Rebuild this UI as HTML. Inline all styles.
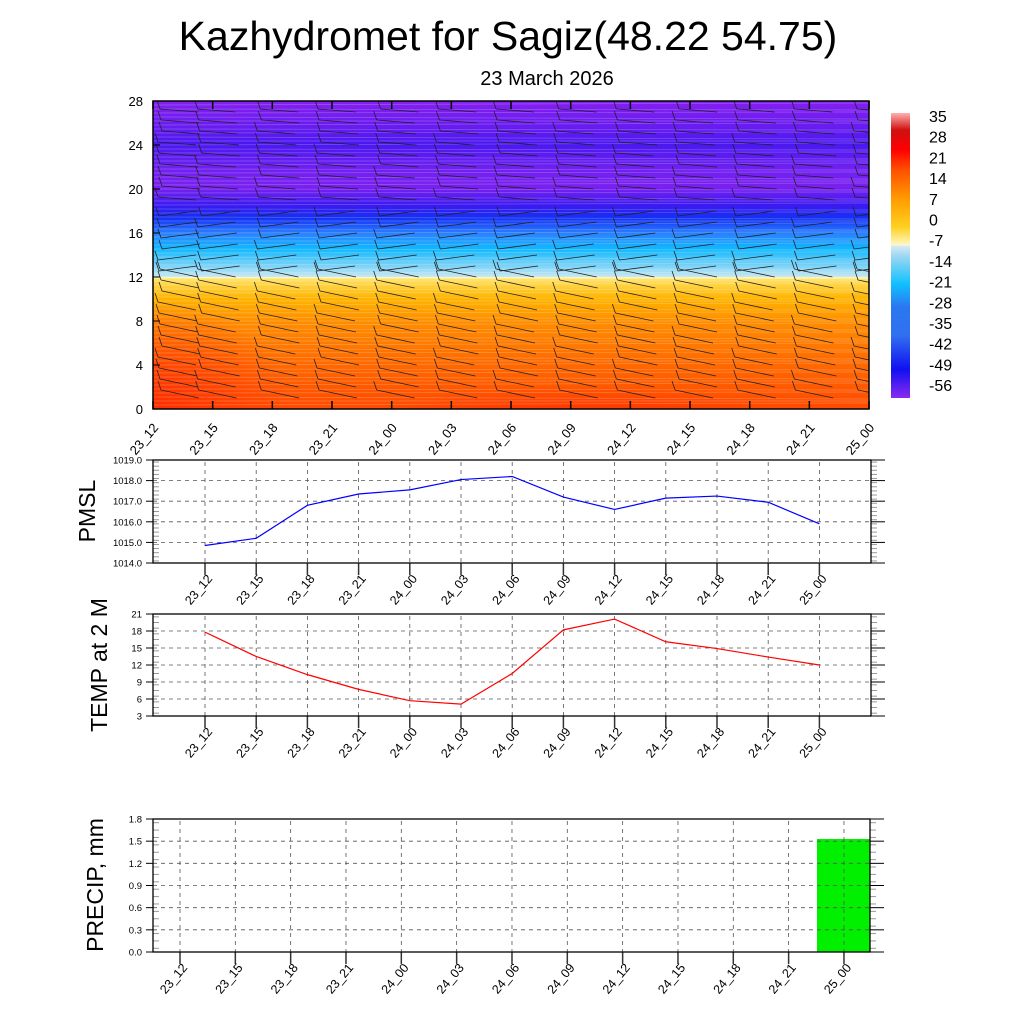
<!DOCTYPE html>
<html><head><meta charset="utf-8"><style>
html,body{margin:0;padding:0;background:#fff;}
svg{display:block;font-family:"Liberation Sans",Arial,sans-serif;}
</style></head><body>
<svg id="s" width="1024" height="1024" viewBox="0 0 1024 1024" xmlns="http://www.w3.org/2000/svg">
<defs>
<linearGradient id="tg" x1="0" y1="1" x2="0" y2="0">
<stop offset="0" stop-color="#ff4a00"/>
<stop offset="0.15" stop-color="#ff6a00"/>
<stop offset="0.28" stop-color="#ff8c00"/>
<stop offset="0.36" stop-color="#ffb400"/>
<stop offset="0.42" stop-color="#ffe060"/>
<stop offset="0.428" stop-color="#fff8c0"/>
<stop offset="0.429" stop-color="#c8e8f4"/>
<stop offset="0.47" stop-color="#70d0f8"/>
<stop offset="0.52" stop-color="#10b8ff"/>
<stop offset="0.57" stop-color="#2a80ff"/>
<stop offset="0.62" stop-color="#1430f4"/>
<stop offset="0.66" stop-color="#3a1af0"/>
<stop offset="0.72" stop-color="#7a20f0"/>
<stop offset="0.78" stop-color="#7020f0"/>
<stop offset="0.86" stop-color="#4a18f0"/>
<stop offset="0.92" stop-color="#6a1cf0"/>
<stop offset="1" stop-color="#8420f0"/>
</linearGradient>
<radialGradient id="rb" cx="0.5" cy="0.9" r="0.5">
<stop offset="0" stop-color="#ff1000" stop-opacity="0.95"/>
<stop offset="0.6" stop-color="#ff2000" stop-opacity="0.6"/>
<stop offset="1" stop-color="#ff3000" stop-opacity="0"/>
</radialGradient>
<radialGradient id="rl" cx="0" cy="1" r="1">
<stop offset="0" stop-color="#ff2a00" stop-opacity="0.9"/>
<stop offset="1" stop-color="#ff3000" stop-opacity="0"/>
</radialGradient>
<linearGradient id="cb" x1="0" y1="1" x2="0" y2="0">
<stop offset="0" stop-color="#8a2af0"/>
<stop offset="0.1" stop-color="#1010f0"/>
<stop offset="0.22" stop-color="#3070f0"/>
<stop offset="0.32" stop-color="#2a78f0"/>
<stop offset="0.4" stop-color="#10c0ff"/>
<stop offset="0.5" stop-color="#a0d8f0"/>
<stop offset="0.535" stop-color="#d8ecf6"/>
<stop offset="0.536" stop-color="#fff8c8"/>
<stop offset="0.6" stop-color="#ffd020"/>
<stop offset="0.7" stop-color="#ff9a00"/>
<stop offset="0.8" stop-color="#ff5000"/>
<stop offset="0.87" stop-color="#ff0000"/>
<stop offset="0.94" stop-color="#d01010"/>
<stop offset="1" stop-color="#ffb0b0"/>
</linearGradient>
<clipPath id="cp"><rect x="153" y="101" width="716" height="308"/></clipPath>
</defs>
<text x="508" y="50" font-size="41" text-anchor="middle">Kazhydromet for Sagiz(48.22 54.75)</text>
<text x="547" y="85" font-size="20" text-anchor="middle">23 March 2026</text>
<g clip-path="url(#cp)">
<rect x="153" y="101" width="716" height="308" fill="url(#tg)"/>
<ellipse cx="580" cy="400" rx="290" ry="80" fill="url(#rb)"/>
<rect x="153" y="300" width="140" height="110" fill="url(#rl)"/>
<g id="wl" stroke="#fff" stroke-opacity="0.25" stroke-width="0.7"></g>
<g id="barbs" stroke="#222" stroke-width="0.8" fill="none"></g>
</g>
<rect x="153" y="101" width="716" height="308" fill="none" stroke="#000" stroke-width="1.5"/>
<g id="ax" font-size="13"></g>
<rect x="891" y="113" width="19" height="285" fill="url(#cb)"/>
<g id="cbl" font-size="16"></g>
<g id="p2"></g>
<text transform="translate(95,511) rotate(-90)" font-size="23" text-anchor="middle">PMSL</text>
<text transform="translate(107,665) rotate(-90)" font-size="23" text-anchor="middle">TEMP at 2 M</text>
<text transform="translate(103,885) rotate(-90)" font-size="23" text-anchor="middle">PRECIP, mm</text>
</svg>
<script>
var NS="http://www.w3.org/2000/svg",S=document.getElementById('s');
function el(p,t,a,txt){var e=document.createElementNS(NS,t);for(var k in a)e.setAttribute(k,a[k]);if(txt!=null)e.textContent=txt;p.appendChild(e);return e;}
var labs=["23_12","23_15","23_18","23_21","24_00","24_03","24_06","24_09","24_12","24_15","24_18","24_21","25_00"];
var ax=document.getElementById('ax');
for(var v=0;v<=28;v+=4){var y=409-v*11;el(ax,'text',{x:143,y:y+5,'text-anchor':'end'},v);el(ax,'line',{x1:153,x2:160,y1:y,y2:y,stroke:'#000'});}
for(var i=0;i<13;i++){var x=153+i*59.67;el(ax,'line',{x1:x,x2:x,y1:409,y2:401,stroke:'#000','stroke-width':1.5});el(ax,'line',{x1:x,x2:x,y1:101,y2:109,stroke:'#000','stroke-width':1.5});
el(ax,'text',{transform:'translate('+(x+6)+',428) rotate(-50)','text-anchor':'end'},labs[i]);}
var wl=document.getElementById('wl');
for(var y=105;y<409;y+=4){el(wl,'line',{x1:153,x2:869,y1:y,y2:y+((y*7)%5-2)});}
var bg=document.getElementById('barbs');
for(var i=0;i<13;i++){var x=153+i*59.67+(i==0?20:0);
 for(var y=112;y<=400;y+=11){var lower=y>270;
  var ox=x+25+((i*3+y)%5)-2;
  var dx=-38, dy=lower?-8:-3;
  if(y>200&&y<270)dy=5;
  el(bg,'line',{x1:ox,y1:y,x2:ox+dx,y2:y+dy});
  el(bg,'line',{x1:ox+dx,y1:y+dy,x2:ox+dx-3,y2:y+dy-9});
 }}
var cbl=document.getElementById('cbl');var cl=[35,28,21,14,7,0,-7,-14,-21,-28,-35,-42,-49,-56];
cl.forEach(function(v,k){el(cbl,'text',{x:929,y:122+k*20.7},v);});
var p2=document.getElementById('p2');
function panel(top,bot,left,right,x0,dx,ticks,fmt,vmin,vmax,minor){
 var h=bot-top;
 ticks.forEach(function(v){var y=bot-(v-vmin)/(vmax-vmin)*h;
  el(p2,'text',{x:left-11,y:y+3.5,'font-size':9.5,'text-anchor':'end'},fmt(v));
  el(p2,'line',{x1:left-7,x2:left,y1:y,y2:y,stroke:'#000'});
  el(p2,'line',{x1:right,x2:right+14,y1:y,y2:y,stroke:'#000'});
  if(y>top+1&&y<bot-1)el(p2,'line',{x1:left,x2:right,y1:y,y2:y,stroke:'#555','stroke-dasharray':'4,4','stroke-width':0.8});
 });
 for(var m=0;m<minor;m++){var y=top+(m+0.5)*h/minor;el(p2,'line',{x1:left,x2:left+6,y1:y,y2:y,stroke:'#999'});el(p2,'line',{x1:right,x2:right+6,y1:y,y2:y,stroke:'#999'});}
 for(var i=0;i<13;i++){var x=x0+i*dx;
  el(p2,'line',{x1:x,x2:x,y1:top+2,y2:bot,stroke:'#555','stroke-dasharray':'4,4','stroke-width':0.8});
  el(p2,'line',{x1:x,x2:x,y1:bot,y2:bot+12,stroke:'#333','stroke-width':1.5});
  el(p2,'text',{transform:'translate('+(x+8)+','+(bot+16)+') rotate(-50)','text-anchor':'end','font-size':12.5},labs[i]);}
 el(p2,'rect',{x:left,y:top,width:right-left,height:h,fill:'none',stroke:'#000','stroke-width':1.3});
}
panel(460,563,153,871,205,51.2,[1014,1015,1016,1017,1018,1019],function(v){return v.toFixed(1)},1014,1019,25);
var pm=[1014.85,1015.2,1016.8,1017.35,1017.55,1018.05,1018.2,1017.2,1016.6,1017.15,1017.25,1016.95,1015.9];
el(p2,'polyline',{points:pm.map(function(v,i){return (205+i*51.2)+','+(563-(v-1014)*20.6)}).join(' '),fill:'none',stroke:'#00f','stroke-width':1.2});
panel(614,716,153,871,205,51.2,[3,6,9,12,15,18,21],function(v){return v},3,21,18);
var tp=[17.8,13.5,10.3,7.7,5.7,5.1,10.5,18.2,20.1,16.1,14.9,13.4,12.0];
el(p2,'polyline',{points:tp.map(function(v,i){return (205+i*51.2)+','+(716-(v-3)*5.667)}).join(' '),fill:'none',stroke:'#f00','stroke-width':1.2});
el(p2,'rect',{x:817,y:839,width:53,height:113,fill:'#00f000'});
panel(819,952,153,870,180,55.33,[0,0.3,0.6,0.9,1.2,1.5,1.8],function(v){return v.toFixed(1)},0,1.8,18);
</script>
</body></html>
